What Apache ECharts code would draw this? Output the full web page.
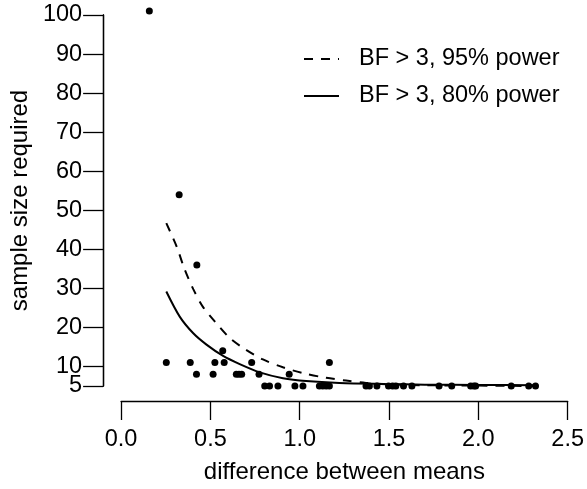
<!DOCTYPE html>
<html>
<head>
<meta charset="utf-8">
<script src="https://cdn.jsdelivr.net/npm/echarts@6/dist/echarts.min.js"></script>
<style>html,body{margin:0;padding:0;background:#fff}#c{width:587px;height:489px}</style>
</head>
<body>
<div id="c"></div>
<script>
// Observed sample sizes (x = difference between means, y = sample size required)
var pointX = [0.158,0.325,0.424,0.253,0.387,0.525,0.577,0.569,0.731,1.166,0.422,0.515,0.645,0.660,0.675,0.772,0.941,0.804,0.831,0.878,0.973,1.018,1.110,1.129,1.148,1.166,1.371,1.390,1.432,1.497,1.520,1.538,1.581,1.628,1.780,1.851,1.957,1.975,1.985,2.184,2.282,2.320];
var pointY = [101,54,36,11,11,11,11,14,11,11,8,8,8,8,8,8,8,5,5,5,5,5,5,5,5,5,5,5,5,5,5,5,5,5,5,5,5,5,5,5,5,5];

// BF > 3, 95% power (dashed)
var power95X = [0.253,0.311,0.353,0.404,0.459,0.525,0.608,0.692,0.794,0.906,1.017,1.148,1.259,1.371,1.500,1.700,2.000,2.320];
var power95Y = [46.7,40.7,35.2,29.8,25.2,21.5,17.3,14.5,11.8,9.8,8.3,7.1,6.4,5.8,5.4,5.2,5.1,5.0];

// BF > 3, 80% power (solid)
var power80X = [0.253,0.329,0.404,0.478,0.571,0.664,0.776,0.906,1.036,1.222,1.480,1.700,2.000,2.320];
var power80Y = [29.2,22.7,18.5,15.6,12.7,10.6,8.5,7.0,6.25,5.75,5.5,5.35,5.25,5.2];

var yTicksMain = [10,20,30,40,50,60,70,80,90,100];
var yTicksLow = [5];
var xTicks = [0,0.5,1,1.5,2,2.5];
var seriesNames = ['BF > 3, 95% power','BF > 3, 80% power'];

function zip(a,b){return a.map(function(v,i){return [v,b[i]];});}

var FONT = 'Liberation Sans, Arial, Helvetica, sans-serif';
var axisLineStyle = {color: '#000', width: 1.3};
function yAxisDef(ticks, withName) {
  var ax = {
    type: 'value', min: 5, max: 100, position: 'left',
    offset: 18,
    splitLine: {show: false},
    axisLine: {show: true, onZero: false, lineStyle: axisLineStyle},
    axisTick: {show: true, length: 20, customValues: ticks, lineStyle: axisLineStyle},
    axisLabel: {color: '#000', fontSize: 23.5, fontFamily: FONT, margin: 21, customValues: ticks,
      showMinLabel: true, showMaxLabel: true, hideOverlap: false}
  };
  if (withName) {
    ax.name = 'sample size required';
    ax.nameLocation = 'middle';
    ax.nameGap = 68;
    ax.nameTextStyle = {color: '#000', fontSize: 24, fontFamily: FONT};
  }
  return ax;
}

var chart = echarts.init(document.getElementById('c'));
chart.setOption({
  animation: false,
  backgroundColor: '#fff',
  textStyle: {fontFamily: FONT, color: '#000'},
  grid: {left: 121, right: 18, top: 15, bottom: 95, containLabel: false},
  legend: {
    data: seriesNames,
    orient: 'vertical',
    left: 298, top: 42,
    itemWidth: 35, itemHeight: 14, itemGap: 13,
    itemStyle: {color: 'rgba(0,0,0,0)', borderWidth: 0, opacity: 0},
    textStyle: {fontFamily: FONT, fontSize: 23.5, color: '#000', lineHeight: 24, padding: [0,0,0,15]},
    selectedMode: false
  },
  xAxis: {
    type: 'value', min: 0, max: 2.5, interval: 0.5,
    offset: 15,
    splitLine: {show: false},
    axisLine: {show: true, onZero: false, lineStyle: axisLineStyle},
    axisTick: {show: true, inside: false, length: 19, customValues: xTicks, lineStyle: axisLineStyle},
    axisLabel: {color: '#000', fontSize: 23.5, fontFamily: FONT, margin: 27, customValues: xTicks,
      showMinLabel: true, showMaxLabel: true,
      formatter: function(v){return v.toFixed(1);}},
    name: 'difference between means', nameLocation: 'middle', nameGap: 59,
    nameTextStyle: {color: '#000', fontSize: 24, fontFamily: FONT}
  },
  yAxis: [yAxisDef(yTicksMain, true), yAxisDef(yTicksLow, false)],
  series: [
    {
      name: seriesNames[0], type: 'line', data: zip(power95X, power95Y),
      symbol: 'none', smooth: 0.3, clip: false,
      lineStyle: {color: '#000', width: 2, type: [9, 8]},
      itemStyle: {color: '#000'}
    },
    {
      name: seriesNames[1], type: 'line', data: zip(power80X, power80Y),
      symbol: 'none', smooth: 0.3, clip: false,
      lineStyle: {color: '#000', width: 2, type: 'solid'},
      itemStyle: {color: '#000'}
    },
    {
      name: 'observed', type: 'scatter', data: zip(pointX, pointY),
      symbol: 'circle', symbolSize: 7, clip: false,
      itemStyle: {color: '#000', opacity: 1}
    }
  ]
});
</script>
</body>
</html>
